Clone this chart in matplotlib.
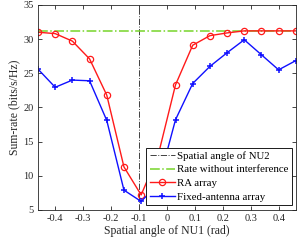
import numpy as np
import matplotlib
matplotlib.use("Agg")
import matplotlib.pyplot as plt

plt.rcParams["font.family"] = ["Liberation Serif", "DejaVu Serif"]
plt.rcParams["mathtext.fontset"] = "stix"

# spatial angle of NU1 (rad), 16 samples
angles = np.linspace(-0.46, 0.46, 16)
nu2_angle = -0.1
rate_no_interf = 31.25

ra_rate = [31.0, 30.8, 29.7, 27.1, 21.8, 11.3, 7.2, 13.1,
           23.3, 29.1, 30.5, 30.9, 31.2, 31.2, 31.2, 31.2]
fixed_rate = [25.6, 22.95, 24.0, 23.9, 18.1, 7.9, 6.25, 8.8,
              18.2, 23.5, 26.0, 28.0, 29.9, 27.7, 25.5, 26.85]

xticks = [-0.4, -0.3, -0.2, -0.1, 0, 0.1, 0.2, 0.3, 0.4]
xticklabels = ["-0.4", "-0.3", "-0.2", "-0.1", "0", "0.1", "0.2", "0.3", "0.4"]
yticks = [5, 10, 15, 20, 25, 30, 35]

fig = plt.figure(figsize=(2.97, 2.45), dpi=100)
ax = fig.add_axes([0.128, 0.143, 0.868, 0.837])

ax.axvline(nu2_angle, color="0.25", linestyle="-.", linewidth=0.7,
           label="Spatial angle of NU2")
ax.axhline(rate_no_interf, color="#77d42a", linestyle="-.", linewidth=1.1,
           label="Rate without interference")
ax.plot(angles, ra_rate, color="#ff1a1a", linewidth=1.0, marker="o",
        markersize=4.5, markerfacecolor="none", markeredgewidth=0.9,
        label="RA array")
ax.plot(angles, fixed_rate, color="#1010ff", linewidth=1.0, marker="+",
        markersize=5, markeredgewidth=1.1, label="Fixed-antenna array")

ax.set_xlim(-0.46, 0.46)
ax.set_ylim(5, 35)
ax.set_xticks(xticks)
ax.set_xticklabels(xticklabels)
ax.set_yticks(yticks)
ax.tick_params(direction="in", top=True, right=True, length=3, width=0.6,
               labelsize=7.5, colors="0.15", pad=3)
for s in ax.spines.values():
    s.set_linewidth(0.6)
    s.set_color("0.15")

ax.set_xlabel("Spatial angle of NU1 (rad)", fontsize=8.5, color="0.15", labelpad=1)
ax.set_ylabel("Sum-rate (bits/s/Hz)", fontsize=8.5, color="0.15", labelpad=2)

leg = ax.legend(loc="lower right", bbox_to_anchor=(0.985, 0.024),
                borderaxespad=0, fontsize=7.8, fancybox=False, framealpha=1,
                edgecolor="0.1", handlelength=2.3, handletextpad=0.25,
                labelspacing=0.38, borderpad=0.3)
leg.get_frame().set_linewidth(0.7)

fig.savefig("out.png", dpi=100)
